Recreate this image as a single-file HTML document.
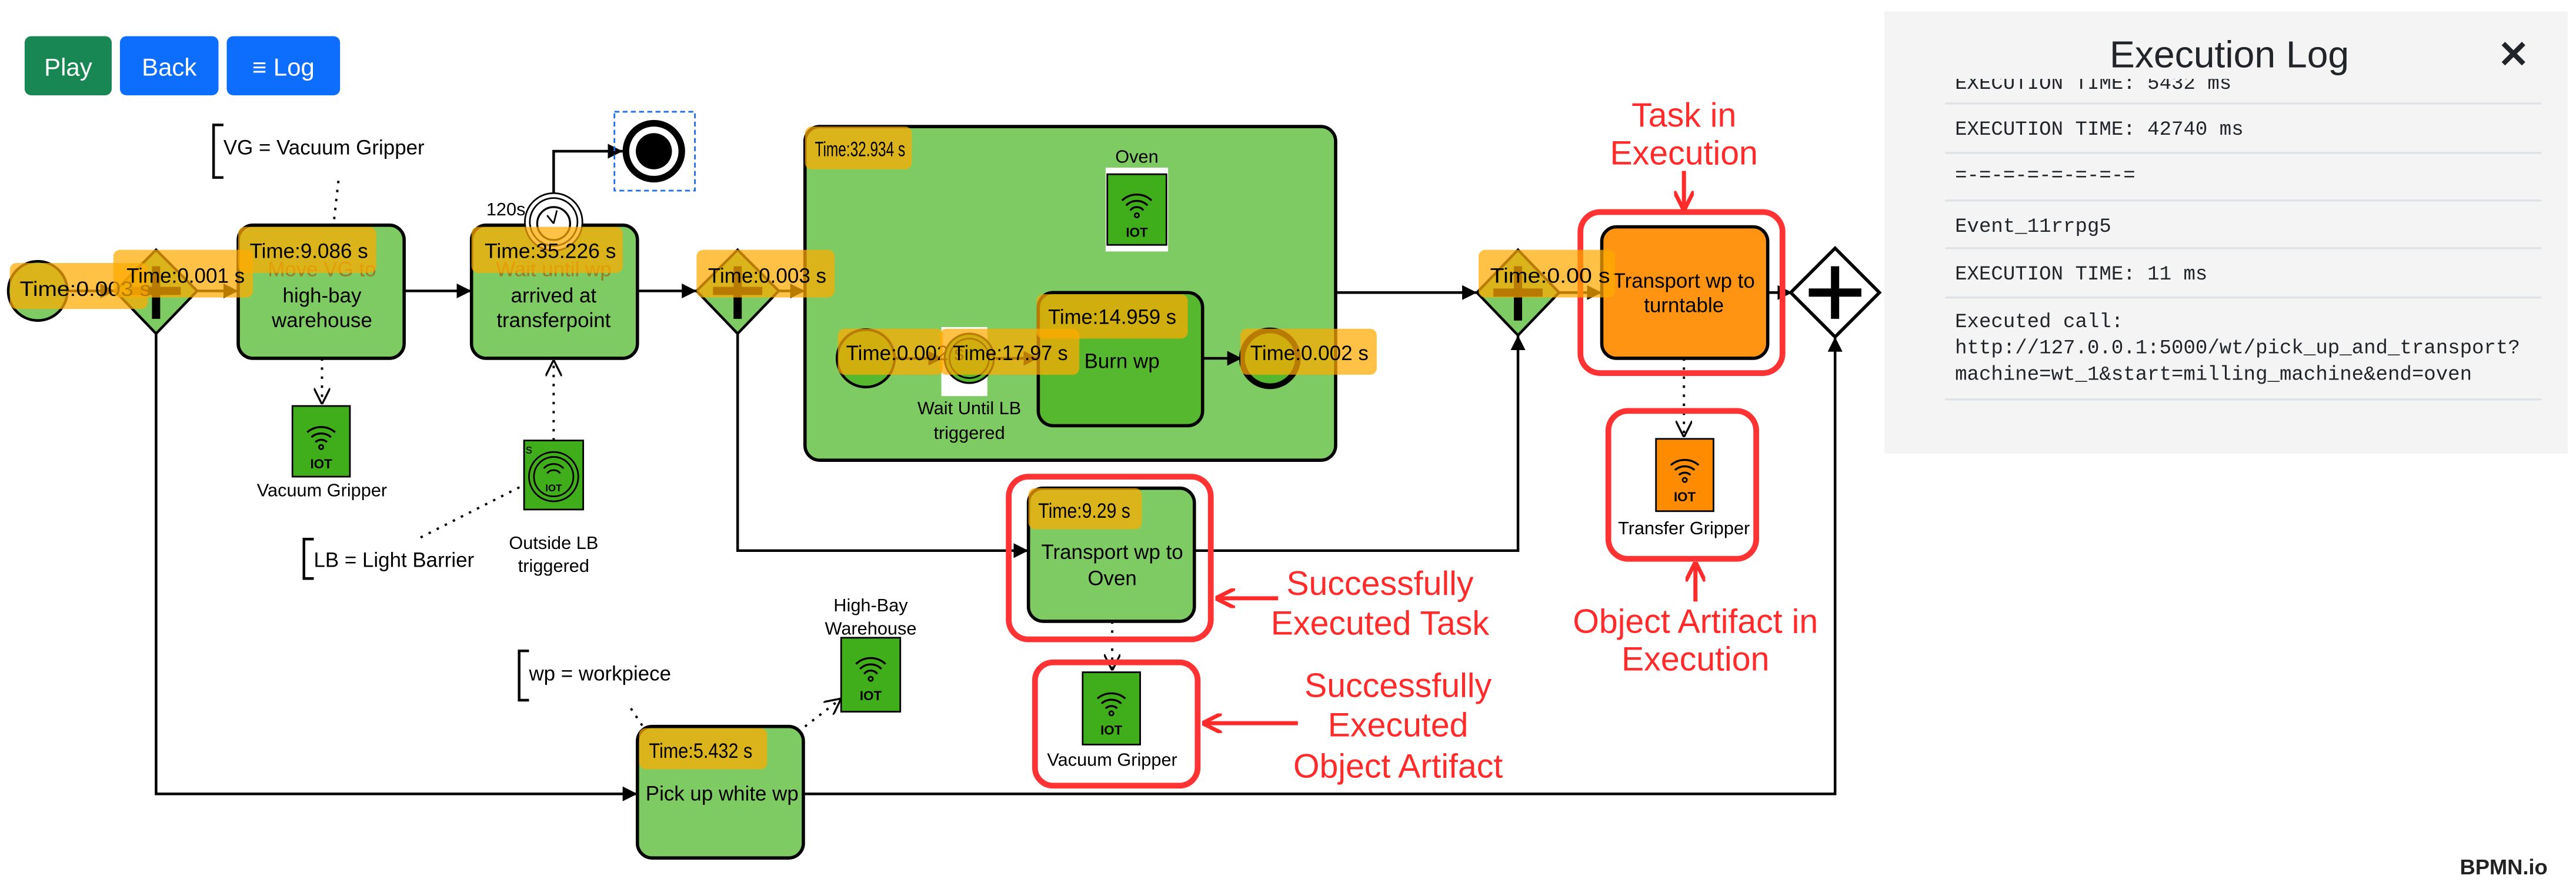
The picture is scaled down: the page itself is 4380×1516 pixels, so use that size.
<!DOCTYPE html>
<html><head><meta charset="utf-8"><style>
html,body{margin:0;padding:0;background:#fff;}
svg{display:block;}
text{font-family:"Liberation Sans",sans-serif;}
.m{font-family:"Liberation Mono",monospace;font-size:12.2px;fill:#212529;}
.t{font-size:12.5px;fill:#000;text-anchor:middle;}
.tl{font-size:12.5px;fill:#000;}
.lab{fill:rgba(255,170,0,0.72);}
.r{font-size:20.5px;fill:#ff2a2a;text-anchor:middle;}
.s{font-size:11px;fill:#000;text-anchor:middle;}
</style></head><body>
<svg width="4380" height="1516" viewBox="0 0 1568 542.7" preserveAspectRatio="none" xmlns="http://www.w3.org/2000/svg">
<defs>
<marker id="a" viewBox="0 0 10 10" refX="10" refY="5" markerWidth="9" markerHeight="9" markerUnits="userSpaceOnUse" orient="auto"><path d="M0,0L10,5L0,10z" fill="#000"/></marker>
<marker id="o" viewBox="0 0 10 10" refX="10" refY="5" markerWidth="10" markerHeight="10" markerUnits="userSpaceOnUse" orient="auto"><path d="M0,0L10,5L0,10" fill="none" stroke="#000" stroke-width="1.2"/></marker>
<marker id="ra" viewBox="0 0 10 10" refX="9" refY="5" markerWidth="12" markerHeight="12" markerUnits="userSpaceOnUse" orient="auto"><path d="M0,0L10,5L0,10" fill="none" stroke="#ff2a2a" stroke-width="2"/></marker>
</defs>

<!-- buttons -->
<rect x="15" y="22" width="53" height="36" rx="4" fill="#198754"/>
<text x="41.5" y="46" font-size="15" fill="#fff" text-anchor="middle">Play</text>
<rect x="73" y="22" width="60" height="36" rx="4" fill="#0d6efd"/>
<text x="103" y="46" font-size="15" fill="#fff" text-anchor="middle">Back</text>
<rect x="138" y="22" width="69" height="36" rx="4" fill="#0d6efd"/>
<text x="172.5" y="46" font-size="15" fill="#fff" text-anchor="middle">≡ Log</text>

<!-- sequence flows -->
<g stroke="#000" stroke-width="1.6" fill="none">
<line x1="41" y1="177" x2="70" y2="177" marker-end="url(#a)"/>
<line x1="120" y1="177" x2="145" y2="177" marker-end="url(#a)"/>
<line x1="246" y1="177" x2="287" y2="177" marker-end="url(#a)"/>
<line x1="388" y1="177" x2="424" y2="177" marker-end="url(#a)"/>
<line x1="474" y1="177" x2="490" y2="177" marker-end="url(#a)"/>
<line x1="813" y1="178" x2="899" y2="178" marker-end="url(#a)"/>
<line x1="949" y1="178" x2="975" y2="178" marker-end="url(#a)"/>
<line x1="1076" y1="178" x2="1091" y2="178" marker-end="url(#a)"/>
<polyline points="449,203 449,335 626,335" marker-end="url(#a)"/>
<polyline points="727,335 924,335 924,204" marker-end="url(#a)"/>
<polyline points="95,203 95,483 388,483" marker-end="url(#a)"/>
<polyline points="490,483 1117,483 1117,205" marker-end="url(#a)"/>
<polyline points="337,118 337,92 379,92" marker-end="url(#a)"/>
</g>

<!-- start event -->
<circle cx="23" cy="177" r="18" fill="#7fcb63" stroke="#000" stroke-width="1.6"/>
<!-- gateway1 -->
<path d="M95,152L120,177L95,203L70,177z" fill="#7fcb63" stroke="#000" stroke-width="1.6"/>
<path d="M95,162V194M80,177H110" stroke="#000" stroke-width="5"/>
<!-- task1 -->
<rect x="145" y="137" width="101" height="81" rx="9" fill="#7fcb63" stroke="#000" stroke-width="2"/>
<text class="t" x="196" y="168" style="fill:#9a7a20">Move VG to</text>
<text class="t" x="196" y="184">high-bay</text>
<text class="t" x="196" y="199">warehouse</text>
<!-- task2 -->
<rect x="287" y="137" width="101" height="81" rx="9" fill="#7fcb63" stroke="#000" stroke-width="2"/>
<text class="t" x="337" y="168" style="fill:#9a7a20">Wait until wp</text>
<text class="t" x="337" y="184">arrived at</text>
<text class="t" x="337" y="199">transferpoint</text>
<!-- timer -->
<circle cx="337" cy="135" r="17.5" fill="#fff" stroke="#000" stroke-width="1"/>
<circle cx="337" cy="135" r="14.5" fill="#fff" stroke="#000" stroke-width="1"/>
<circle cx="337" cy="136" r="10" fill="#fff" stroke="#000" stroke-width="1.2"/>
<path d="M337,136L339,128M337,136L333,131" stroke="#000" stroke-width="1"/>
<text x="296" y="131" font-size="11">120s</text>
<!-- end event -->
<rect x="374" y="68" width="49" height="48" fill="none" stroke="#1e6ee8" stroke-width="1" stroke-dasharray="3,2"/>
<circle cx="398" cy="92" r="17" fill="#fff" stroke="#000" stroke-width="4"/>
<circle cx="398" cy="92" r="11" fill="#000"/>
<!-- gateway2 -->
<path d="M449,152L474,177L449,203L424,177z" fill="#7fcb63" stroke="#000" stroke-width="1.6"/>
<path d="M449,162V194M434,177H464" stroke="#000" stroke-width="5"/>

<!-- annotations -->
<path d="M136,76H130V108H136" fill="none" stroke="#000" stroke-width="1.6"/>
<text class="tl" x="136" y="94" font-size="12">VG = Vacuum Gripper</text>
<line x1="206" y1="110" x2="203" y2="137" stroke="#000" stroke-width="1.4" stroke-dasharray="1.5,4"/>
<path d="M191,328H185V352H191" fill="none" stroke="#000" stroke-width="1.6"/>
<text class="tl" x="191" y="345">LB = Light Barrier</text>
<line x1="256" y1="327" x2="319" y2="295" stroke="#000" stroke-width="1.4" stroke-dasharray="1.5,4"/>
<path d="M322,396H316V426H322" fill="none" stroke="#000" stroke-width="1.6"/>
<text class="tl" x="322" y="414">wp = workpiece</text>
<line x1="384" y1="431" x2="392" y2="443" stroke="#000" stroke-width="1.4" stroke-dasharray="1.5,4"/>

<!-- data associations -->
<g stroke="#000" stroke-width="1.4" stroke-dasharray="1.5,4" fill="none">
<line x1="196" y1="218" x2="196" y2="246" marker-end="url(#o)"/>
<line x1="337" y1="268" x2="337" y2="219" marker-end="url(#o)"/>
<line x1="687" y1="178" x2="687" y2="153" marker-end="url(#o)"/>
<line x1="490" y1="442" x2="512" y2="425" marker-end="url(#o)"/>
<line x1="677" y1="378" x2="677" y2="408" marker-end="url(#o)"/>
<line x1="1025" y1="218" x2="1025" y2="266" marker-end="url(#o)"/>
</g>

<!-- data objects -->
<rect x="178" y="247" width="35" height="43" fill="#3fae1a" stroke="#000" stroke-width="1"/>
<path d="M187,263a13,13 0 0 1 17,0M189.5,266a9,9 0 0 1 12,0M192,269a5,5 0 0 1 7,0" fill="none" stroke="#000" stroke-width="1.2"/>
<circle cx="195.5" cy="272" r="1.3" fill="none" stroke="#000"/>
<text x="195.5" y="285" font-size="8" font-weight="bold" text-anchor="middle">IOT</text>
<text class="s" x="196" y="302">Vacuum Gripper</text>

<rect x="319" y="268" width="36" height="42" fill="#3fae1a" stroke="#000" stroke-width="1"/>
<circle cx="337" cy="290" r="15" fill="none" stroke="#000" stroke-width="1"/>
<circle cx="337" cy="290" r="12" fill="none" stroke="#000" stroke-width="1"/>
<path d="M331,285a8,8 0 0 1 12,0M333,288a5,5 0 0 1 8,0" fill="none" stroke="#000" stroke-width="1"/>
<text x="337" y="299" font-size="6" font-weight="bold" text-anchor="middle">IOT</text>
<text x="320" y="276" font-size="8">s</text>
<text class="s" x="337" y="334">Outside LB</text>
<text class="s" x="337" y="348">triggered</text>

<!-- subprocess -->
<rect x="490" y="77" width="323" height="203" rx="9" fill="#7fcb63" stroke="#000" stroke-width="2"/>
<rect x="673" y="102" width="38" height="51" fill="#fff"/>
<rect x="674" y="106" width="36" height="43" fill="#3fae1a" stroke="#000" stroke-width="1"/>
<path d="M683,122a13,13 0 0 1 18,0M685.5,125a9,9 0 0 1 13,0M688,128a5,5 0 0 1 8,0" fill="none" stroke="#000" stroke-width="1.2"/>
<circle cx="692" cy="131" r="1.3" fill="none" stroke="#000"/>
<text x="692" y="144" font-size="8" font-weight="bold" text-anchor="middle">IOT</text>
<text class="s" x="692" y="99">Oven</text>
<line x1="545" y1="218" x2="574" y2="218" stroke="#000" stroke-width="1.6" marker-end="url(#a)"/>
<line x1="606" y1="218" x2="632" y2="218" stroke="#000" stroke-width="1.6" marker-end="url(#a)"/>
<line x1="732" y1="218" x2="756" y2="218" stroke="#000" stroke-width="1.6" marker-end="url(#a)"/>
<circle cx="527" cy="218" r="17.5" fill="#55b82f" stroke="#000" stroke-width="1.6"/>
<rect x="573" y="199" width="28" height="42" fill="#fff"/>
<circle cx="590" cy="218" r="15" fill="#55b82f" stroke="#000" stroke-width="1.2"/>
<circle cx="590" cy="218" r="12" fill="#55b82f" stroke="#000" stroke-width="1"/>
<text class="s" x="590" y="252">Wait Until LB</text>
<text class="s" x="590" y="267">triggered</text>
<rect x="632" y="178" width="100" height="81" rx="9" fill="#55b82f" stroke="#000" stroke-width="2"/>
<text class="tl" x="660" y="224">Burn wp</text>
<circle cx="773" cy="218" r="17" fill="#55b82f" stroke="#000" stroke-width="3.5"/>

<!-- gateway3 -->
<path d="M924,152L949,178L924,204L899,178z" fill="#7fcb63" stroke="#000" stroke-width="1.6"/>
<path d="M924,162V195M909,178H939" stroke="#000" stroke-width="5"/>
<!-- gateway4 -->
<path d="M1117,151L1144,178L1117,205L1090,178z" fill="#fff" stroke="#000" stroke-width="2"/>
<path d="M1117,162V194M1101,178H1133" stroke="#000" stroke-width="5"/>

<!-- transport to turntable -->
<rect x="975" y="138" width="101" height="80" rx="9" fill="#ff9412" stroke="#000" stroke-width="2"/>
<text class="t" x="1025" y="175">Transport wp to</text>
<text class="t" x="1025" y="190">turntable</text>
<rect x="962" y="129" width="123" height="98" rx="12" fill="none" stroke="#ff3333" stroke-width="3.5"/>
<rect x="1008" y="267" width="35" height="44" fill="#ff8c00" stroke="#000" stroke-width="1"/>
<path d="M1017,283a13,13 0 0 1 17,0M1019.5,286a9,9 0 0 1 12,0M1022,289a5,5 0 0 1 7,0" fill="none" stroke="#000" stroke-width="1.2"/>
<circle cx="1025.5" cy="292" r="1.3" fill="none" stroke="#000"/>
<text x="1025.5" y="305" font-size="8" font-weight="bold" text-anchor="middle">IOT</text>
<text class="s" x="1025" y="325">Transfer Gripper</text>
<rect x="979" y="250" width="90" height="90" rx="12" fill="none" stroke="#ff3333" stroke-width="3.5"/>

<!-- transport to oven -->
<rect x="626" y="297" width="101" height="81" rx="9" fill="#7fcb63" stroke="#000" stroke-width="2"/>
<text class="t" x="677" y="340">Transport wp to</text>
<text class="t" x="677" y="356">Oven</text>
<rect x="614" y="290" width="123" height="99" rx="12" fill="none" stroke="#ff3333" stroke-width="3.5"/>
<rect x="659" y="409" width="35" height="44" fill="#3fae1a" stroke="#000" stroke-width="1"/>
<path d="M668,425a13,13 0 0 1 17,0M670.5,428a9,9 0 0 1 12,0M673,431a5,5 0 0 1 7,0" fill="none" stroke="#000" stroke-width="1.2"/>
<circle cx="676.5" cy="434" r="1.3" fill="none" stroke="#000"/>
<text x="676.5" y="447" font-size="8" font-weight="bold" text-anchor="middle">IOT</text>
<text class="s" x="677" y="466">Vacuum Gripper</text>
<rect x="630" y="403" width="99" height="75" rx="11" fill="none" stroke="#ff3333" stroke-width="3.5"/>

<!-- pick up -->
<rect x="388" y="442" width="101" height="80" rx="9" fill="#7fcb63" stroke="#000" stroke-width="2"/>
<text class="tl" x="393" y="487">Pick up white wp</text>
<rect x="512" y="388" width="36" height="45" fill="#3fae1a" stroke="#000" stroke-width="1"/>
<path d="M521,404a13,13 0 0 1 18,0M523.5,407a9,9 0 0 1 13,0M526,410a5,5 0 0 1 8,0" fill="none" stroke="#000" stroke-width="1.2"/>
<circle cx="530" cy="413" r="1.3" fill="none" stroke="#000"/>
<text x="530" y="426" font-size="8" font-weight="bold" text-anchor="middle">IOT</text>
<text class="s" x="530" y="372">High-Bay</text>
<text class="s" x="530" y="386">Warehouse</text>

<!-- red annotations -->
<text class="r" x="1025" y="77">Task in</text>
<text class="r" x="1025" y="100">Execution</text>
<line x1="1025" y1="104" x2="1025" y2="127" stroke="#ff2a2a" stroke-width="2.5" marker-end="url(#ra)"/>
<text class="r" x="1032" y="385">Object Artifact in</text>
<text class="r" x="1032" y="408">Execution</text>
<line x1="1032" y1="366" x2="1032" y2="343" stroke="#ff2a2a" stroke-width="2.5" marker-end="url(#ra)"/>
<text class="r" x="840" y="362">Successfully</text>
<text class="r" x="840" y="386">Executed Task</text>
<line x1="778" y1="364" x2="741" y2="364" stroke="#ff2a2a" stroke-width="2.5" marker-end="url(#ra)"/>
<text class="r" x="851" y="424">Successfully</text>
<text class="r" x="851" y="448">Executed</text>
<text class="r" x="851" y="473">Object Artifact</text>
<line x1="790" y1="440" x2="733" y2="440" stroke="#ff2a2a" stroke-width="2.5" marker-end="url(#ra)"/>

<!-- time labels -->
<g font-size="12.5" fill="#000">
<rect class="lab" x="6" y="160" width="84" height="28" rx="4"/>
<text x="12" y="180" textLength="80" lengthAdjust="spacingAndGlyphs">Time:0.003 s</text>
<rect class="lab" x="69" y="152" width="85" height="29" rx="4"/>
<text x="77" y="172" textLength="72" lengthAdjust="spacingAndGlyphs">Time:0.001 s</text>
<rect class="lab" x="145" y="138" width="84" height="28" rx="4"/>
<text x="152" y="157" textLength="72" lengthAdjust="spacingAndGlyphs">Time:9.086 s</text>
<rect class="lab" x="287" y="138" width="92" height="28" rx="4"/>
<text x="295" y="157" textLength="80" lengthAdjust="spacingAndGlyphs">Time:35.226 s</text>
<rect class="lab" x="424" y="152" width="84" height="29" rx="4"/>
<text x="431" y="172" textLength="72" lengthAdjust="spacingAndGlyphs">Time:0.003 s</text>
<rect class="lab" x="490" y="77" width="65" height="26" rx="4"/>
<text x="496" y="95" textLength="55" lengthAdjust="spacingAndGlyphs">Time:32.934 s</text>
<rect class="lab" x="510" y="200" width="64" height="28" rx="4"/>
<text x="515" y="219" textLength="72" lengthAdjust="spacingAndGlyphs">Time:0.002 s</text>
<rect class="lab" x="572" y="200" width="85" height="28" rx="4"/>
<text x="580" y="219" textLength="70" lengthAdjust="spacingAndGlyphs">Time:17.97 s</text>
<rect class="lab" x="631" y="179" width="92" height="27" rx="4"/>
<text x="638" y="197" textLength="78" lengthAdjust="spacingAndGlyphs">Time:14.959 s</text>
<rect class="lab" x="755" y="200" width="83" height="28" rx="4"/>
<text x="761" y="219" textLength="72" lengthAdjust="spacingAndGlyphs">Time:0.002 s</text>
<rect class="lab" x="900" y="152" width="83" height="29" rx="4"/>
<text x="907" y="172" textLength="73" lengthAdjust="spacingAndGlyphs">Time:0.00  s</text>
<rect class="lab" x="626" y="297" width="69" height="25" rx="4"/>
<text x="632" y="315" textLength="56" lengthAdjust="spacingAndGlyphs">Time:9.29 s</text>
<rect class="lab" x="389" y="443" width="78" height="25" rx="4"/>
<text x="395" y="461" textLength="63" lengthAdjust="spacingAndGlyphs">Time:5.432 s</text>
</g>

<!-- log panel -->
<rect x="1147" y="7" width="416" height="269" fill="#f4f4f4"/>
<text class="m" x="1190" y="54">EXECUTION TIME: 5432 ms</text>
<rect x="1147" y="7" width="416" height="41" fill="#f4f4f4"/>
<text x="1357" y="41" font-size="23" fill="#212529" text-anchor="middle">Execution Log</text>
<text x="1530" y="41" font-size="23" fill="#212529" text-anchor="middle" font-weight="bold">✕</text>
<g stroke="#dee2e6" stroke-width="1.2">
<line x1="1184" y1="63" x2="1547" y2="63"/>
<line x1="1184" y1="93" x2="1547" y2="93"/>
<line x1="1184" y1="122" x2="1547" y2="122"/>
<line x1="1184" y1="151" x2="1547" y2="151"/>
<line x1="1184" y1="181" x2="1547" y2="181"/>
<line x1="1184" y1="243" x2="1547" y2="243"/>
</g>
<text class="m" x="1190" y="82">EXECUTION TIME: 42740 ms</text>
<text class="m" x="1190" y="110">=-=-=-=-=-=-=-=</text>
<text class="m" x="1190" y="141">Event_11rrpg5</text>
<text class="m" x="1190" y="170">EXECUTION TIME: 11 ms</text>
<text class="m" x="1190" y="199">Executed call:</text>
<text class="m" x="1190" y="215">http://127.0.0.1:5000/wt/pick_up_and_transport?</text>
<text class="m" x="1190" y="231">machine=wt_1&amp;start=milling_machine&amp;end=oven</text>

<text x="1524" y="532" font-size="13" font-weight="bold" text-anchor="middle" fill="#222">BPMN.io</text>
</svg>
</body></html>
